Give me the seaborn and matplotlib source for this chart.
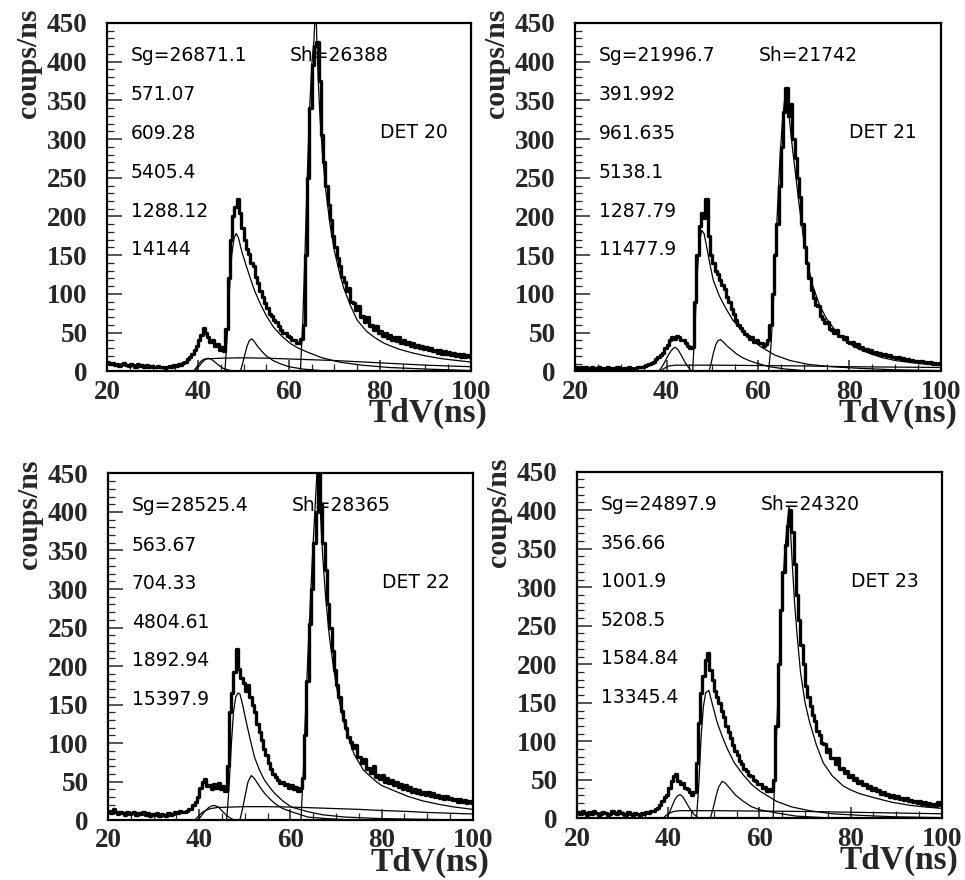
import numpy as np
import matplotlib
matplotlib.use("Agg")
import matplotlib.pyplot as plt
from matplotlib.ticker import MultipleLocator
import seaborn as sns

# TdV histogram: 0.5 ns bins from 20 to 100 ns
bin_lo, bin_hi, bin_w = 20.0, 100.0, 0.5

# ---------------- DET 20 ----------------
det20_counts = [
    12, 9, 11, 8, 10, 7, 9, 11, 8, 7, 10, 8, 6, 9, 7, 8, 6, 8, 5, 7,
    6, 5, 7, 5, 6, 4, 6, 7, 5, 8, 7, 9, 8, 11, 12, 16, 18, 22, 27, 33,
    40, 47, 56, 50, 44, 38, 40, 33, 35, 28, 31, 26, 55, 120, 170, 200, 212, 222, 205, 185,
    170, 158, 152, 140, 136, 122, 114, 104, 96, 88, 82, 74, 72, 66, 64, 58, 54, 50, 50, 46,
    44, 41, 40, 37, 36, 42, 60, 150, 250, 340, 395, 420, 425, 375, 305, 270, 240, 215, 195, 175,
    160, 146, 136, 122, 115, 104, 108, 90, 88, 79, 84, 70, 72, 64, 70, 58, 60, 53, 58, 50,
    52, 46, 50, 43, 47, 41, 45, 39, 44, 37, 40, 35, 38, 33, 36, 31, 34, 30, 33, 29,
    31, 27, 30, 26, 28, 24, 27, 23, 26, 22, 25, 21, 24, 20, 23, 19, 22, 19, 21, 18,
]
det20_p48_x = [45.9, 46.4, 46.9, 47.4, 47.9, 48.4, 48.9, 49.6, 50.5, 51.5, 52.5, 53.7, 55, 56.6, 58.5, 60.3, 62, 64, 67, 71, 76, 82, 90, 100]
det20_p48_y = [0, 45, 105, 150, 172, 178, 172, 155, 138, 120, 103, 87, 72, 57, 45, 36, 30, 25, 18, 12, 8, 5, 3, 1]
det20_p51_x = [49.3, 49.8, 50.3, 50.8, 51.3, 51.8, 52.3, 53, 54, 55, 56.5, 58, 60, 63, 67, 72]
det20_p51_y = [0, 10, 22, 33, 40, 42, 39, 33, 26, 20, 14, 10, 6, 3, 1, 0]
det20_p42_x = [39.3, 40, 40.8, 41.5, 42.2, 42.8, 43.5, 44.5, 45.5, 46.5, 48]
det20_p42_y = [0, 5, 11, 15, 17, 16, 13, 8, 4, 2, 0]
det20_bg_x = [39.0, 39.6, 40.2, 40.8, 41.5, 45, 50, 55, 60, 70, 80, 90, 100]
det20_bg_y = [0, 5, 10, 14, 16, 17, 17.5, 17, 16, 14, 11, 8, 6]
det20_p66_x = [62.5, 63.0, 63.5, 64.0, 64.5, 65.0, 65.5, 65.9, 66.1, 66.4, 66.8, 67.3, 68, 69, 70, 71, 72, 73.5, 75, 77, 79, 81, 84, 87, 90, 94, 97, 100]
det20_p66_y = [0, 60, 150, 250, 335, 395, 430, 480, 430, 380, 330, 285, 238, 190, 155, 130, 108, 85, 66, 52, 43, 36, 29, 24, 20, 16, 14, 12]
det20_sg, det20_sh = "Sg=26871.1", "Sh=26388"
det20_fit = ["571.07", "609.28", "5405.4", "1288.12", "14144"]

# ---------------- DET 21 ----------------
det21_counts = [
    6, 4, 5, 3, 5, 4, 3, 5, 4, 3, 5, 4, 3, 4, 5, 3, 4, 3, 5, 4,
    3, 4, 3, 5, 4, 3, 4, 5, 6, 5, 7, 8, 9, 11, 12, 16, 18, 21, 24, 30,
    34, 40, 44, 42, 46, 44, 40, 41, 36, 33, 30, 32, 90, 150, 188, 205, 198, 222, 175, 150,
    140, 130, 126, 118, 112, 106, 96, 90, 80, 74, 66, 60, 56, 52, 48, 46, 42, 44, 38, 40,
    36, 37, 33, 35, 40, 60, 100, 150, 190, 240, 290, 335, 366, 330, 345, 300, 275, 250, 225, 190,
    160, 140, 120, 105, 95, 86, 84, 72, 68, 62, 64, 55, 54, 50, 54, 46, 46, 42, 45, 38,
    36, 38, 33, 35, 30, 32, 28, 29, 26, 27, 24, 25, 22, 24, 21, 22, 20, 21, 18, 19,
    17, 18, 16, 17, 15, 16, 14, 15, 13, 14, 12, 13, 12, 12, 11, 12, 10, 11, 10, 11,
]
det21_p48_x = [45.7, 46.2, 46.7, 47.2, 47.7, 48.2, 48.8, 49.5, 50.2, 51.5, 52.8, 54.5, 56.4, 58.5, 60.8, 63.7, 67, 71, 76, 82, 90, 100]
det21_p48_y = [0, 55, 125, 168, 182, 178, 160, 138, 118, 98, 83, 66, 53, 41, 31, 21, 14, 9, 6, 4, 2, 1]
det21_p51_x = [49.3, 49.8, 50.3, 50.8, 51.3, 51.8, 52.4, 53.2, 54.2, 55.2, 56.5, 58, 60, 62.5, 66, 70]
det21_p51_y = [0, 12, 25, 35, 40, 41, 38, 33, 28, 23, 18, 14, 10, 6, 3, 1]
det21_p42_x = [38.2, 38.8, 39.5, 40.2, 40.9, 41.5, 41.9, 42.5, 43.2, 44, 44.8, 45.5]
det21_p42_y = [0, 4, 11, 19, 26, 30, 31, 28, 21, 12, 5, 0]
det21_bg_x = [38.5, 39.5, 40.5, 42, 50, 60, 70, 80, 90, 100]
det21_bg_y = [0, 4, 7, 8, 8, 7.5, 7, 6, 5.5, 5]
det21_p66_x = [62.3, 62.8, 63.3, 63.8, 64.3, 64.8, 65.3, 65.8, 66.1, 66.5, 67, 67.5, 68.2, 69, 70, 71, 72, 73.5, 75, 77, 79, 81, 84, 87, 90, 94, 97, 100]
det21_p66_y = [0, 30, 80, 150, 215, 275, 320, 350, 358, 345, 318, 290, 255, 215, 170, 135, 110, 85, 68, 52, 40, 32, 24, 18, 14, 11, 9, 8]
det21_sg, det21_sh = "Sg=21996.7", "Sh=21742"
det21_fit = ["391.992", "961.635", "5138.1", "1287.79", "11477.9"]

# ---------------- DET 22 ----------------
det22_counts = [
    12, 9, 14, 10, 8, 11, 9, 7, 10, 8, 9, 11, 7, 9, 8, 10, 7, 9, 6, 8,
    7, 9, 6, 8, 7, 6, 9, 7, 8, 10, 9, 12, 11, 10, 12, 14, 15, 20, 24, 30,
    42, 50, 54, 44, 46, 41, 47, 42, 48, 40, 44, 38, 70, 140, 165, 192, 222, 196, 185, 178,
    168, 175, 160, 150, 140, 125, 115, 104, 92, 84, 74, 66, 60, 56, 52, 48, 50, 45, 47, 42,
    45, 40, 43, 38, 42, 55, 110, 180, 255, 300, 360, 400, 455, 410, 360, 325, 280, 250, 220, 195,
    175, 160, 142, 130, 120, 108, 102, 94, 98, 82, 82, 74, 80, 66, 68, 61, 70, 56, 59, 53,
    58, 50, 55, 48, 52, 45, 49, 43, 47, 41, 45, 39, 43, 37, 40, 35, 39, 34, 37, 33,
    36, 31, 35, 30, 33, 29, 32, 28, 31, 27, 29, 26, 28, 24, 27, 23, 26, 22, 25, 22,
]
det22_p48_x = [46.0, 46.5, 47.0, 47.5, 48.0, 48.5, 48.9, 49.5, 50.1, 50.7, 51.4, 52.1, 53.2, 54.3, 55.4, 56.5, 58.3, 60.2, 63.8, 67, 72, 80, 90, 100]
det22_p48_y = [0, 40, 95, 140, 160, 165, 164, 150, 133, 117, 99, 82, 65, 52, 43, 35, 25, 17, 11, 7, 4, 2, 1, 0]
det22_p51_x = [48.9, 49.5, 50.1, 50.7, 51.4, 52.1, 53.2, 54.3, 55.4, 56.5, 58.3, 60.2, 63.8, 68, 74]
det22_p51_y = [0, 15, 33, 50, 58, 54, 44, 35, 28, 22, 15, 11, 4, 2, 0]
det22_p42_x = [39.7, 40.5, 41.3, 42.0, 42.7, 43.4, 44.2, 45.0, 46.0, 47.0, 47.8]
det22_p42_y = [0, 6, 12, 16, 18.5, 19, 17, 12, 6, 2, 0]
det22_bg_x = [39.0, 39.8, 40.6, 41.5, 42.5, 44, 47, 50, 55, 60, 65, 70, 75, 80, 85, 90, 95, 100]
det22_bg_y = [0, 5, 10, 13, 15, 16.5, 17, 17.5, 17.5, 17, 16, 15, 14, 12.5, 11.5, 10, 9, 8]
det22_p66_x = [62.3, 62.8, 63.3, 63.8, 64.3, 64.8, 65.3, 65.8, 66.0, 66.2, 66.6, 67.1, 67.7, 68.5, 69.5, 70.5, 72, 74, 76, 78.4, 80, 82, 85.7, 89, 93, 96, 100]
det22_p66_y = [0, 60, 140, 210, 275, 340, 395, 450, 490, 450, 395, 340, 290, 240, 195, 160, 120, 85, 65, 52, 45, 40, 31, 25, 20, 17, 14]
det22_sg, det22_sh = "Sg=28525.4", "Sh=28365"
det22_fit = ["563.67", "704.33", "4804.61", "1892.94", "15397.9"]

# ---------------- DET 23 ----------------
det23_counts = [
    8, 6, 9, 7, 5, 8, 6, 9, 7, 5, 6, 8, 7, 5, 6, 9, 7, 6, 10, 7,
    6, 5, 8, 6, 5, 7, 6, 5, 7, 6, 8, 7, 9, 10, 12, 14, 17, 22, 28, 31,
    40, 48, 55, 57, 48, 44, 46, 40, 38, 34, 31, 34, 72, 124, 163, 185, 205, 215, 193, 180,
    165, 158, 150, 140, 132, 120, 112, 104, 95, 88, 82, 74, 70, 64, 62, 56, 55, 50, 49, 44,
    44, 40, 41, 36, 38, 35, 50, 120, 200, 270, 320, 355, 380, 400, 372, 330, 290, 258, 225, 200,
    172, 158, 146, 134, 126, 114, 108, 98, 96, 86, 90, 78, 79, 70, 78, 64, 66, 59, 61, 54,
    56, 50, 52, 46, 49, 43, 45, 40, 42, 37, 40, 35, 37, 32, 34, 30, 32, 28, 30, 27,
    29, 25, 27, 24, 26, 22, 24, 21, 23, 20, 22, 19, 21, 18, 20, 17, 19, 16, 21, 17,
]
det23_p48_x = [46.2, 46.7, 47.2, 47.7, 48.2, 48.9, 49.6, 50.7, 51.8, 52.9, 54.5, 56.5, 58.3, 60.2, 63.8, 67, 71, 76, 82, 90, 100]
det23_p48_y = [0, 45, 105, 145, 163, 166, 150, 125, 107, 91, 72, 56, 44, 35, 22, 15, 10, 6, 4, 2, 1]
det23_p51_x = [49.2, 49.8, 50.4, 51.0, 51.8, 52.5, 53.5, 54.8, 56.5, 58.3, 60.2, 63.8, 68, 74]
det23_p51_y = [0, 12, 27, 40, 48, 46, 39, 30, 22, 15, 11, 7, 3, 1]
det23_p42_x = [39.7, 40.3, 40.9, 41.5, 42.0, 42.6, 43.2, 44.0, 44.8, 45.7, 46.7]
det23_p42_y = [0, 8, 17, 25, 29, 31, 28, 20, 12, 5, 0]
det23_bg_x = [38.8, 39.5, 40.3, 41.2, 42.5, 50, 60, 70, 80, 90, 100]
det23_bg_y = [0, 4, 7, 9, 10, 10, 9.5, 9, 8, 7, 6]
det23_p66_x = [63.0, 63.5, 64.0, 64.5, 65.0, 65.5, 66.0, 66.5, 66.8, 67.2, 67.7, 68.3, 69, 70, 71, 72.5, 74, 76, 78.4, 80, 82, 85.7, 89, 93, 96, 100]
det23_p66_y = [0, 70, 150, 225, 290, 340, 378, 405, 375, 330, 280, 235, 190, 150, 125, 95, 72, 55, 42, 37, 32, 26, 21, 17, 15, 13]
det23_sg, det23_sh = "Sg=24897.9", "Sh=24320"
det23_fit = ["356.66", "1001.9", "5208.5", "1584.84", "13345.4"]

det_names = ["DET 20", "DET 21", "DET 22", "DET 23"]

panels = [
    dict(counts=det20_counts, sg=det20_sg, sh=det20_sh, fit=det20_fit,
         curves=[(det20_p48_x, det20_p48_y), (det20_p51_x, det20_p51_y), (det20_p42_x, det20_p42_y),
                 (det20_bg_x, det20_bg_y), (det20_p66_x, det20_p66_y)]),
    dict(counts=det21_counts, sg=det21_sg, sh=det21_sh, fit=det21_fit,
         curves=[(det21_p48_x, det21_p48_y), (det21_p51_x, det21_p51_y), (det21_p42_x, det21_p42_y),
                 (det21_bg_x, det21_bg_y), (det21_p66_x, det21_p66_y)]),
    dict(counts=det22_counts, sg=det22_sg, sh=det22_sh, fit=det22_fit,
         curves=[(det22_p48_x, det22_p48_y), (det22_p51_x, det22_p51_y), (det22_p42_x, det22_p42_y),
                 (det22_bg_x, det22_bg_y), (det22_p66_x, det22_p66_y)]),
    dict(counts=det23_counts, sg=det23_sg, sh=det23_sh, fit=det23_fit,
         curves=[(det23_p48_x, det23_p48_y), (det23_p51_x, det23_p51_y), (det23_p42_x, det23_p42_y),
                 (det23_bg_x, det23_bg_y), (det23_p66_x, det23_p66_y)]),
]

sns.set_theme(style="white")
plt.rcParams['font.family'] = ['Liberation Serif', 'DejaVu Serif']
plt.rcParams['axes.linewidth'] = 1.5

fig = plt.figure(figsize=(9.65, 8.8), dpi=100)
rects = [
    [0.111, 0.578, 0.377, 0.396],
    [0.596, 0.578, 0.379, 0.396],
    [0.112, 0.068, 0.378, 0.394],
    [0.598, 0.070, 0.378, 0.394],
]

centers = np.arange(bin_lo + bin_w / 2, bin_hi, bin_w)
txt = dict(family='DejaVu Sans', fontsize=13.5, va='center', color='black')

for rect, det, p in zip(rects, det_names, panels):
    ax = fig.add_axes(rect)
    sns.histplot(x=centers, weights=p['counts'], binwidth=bin_w, binrange=(bin_lo, bin_hi),
                 element='step', fill=False, color='black', linewidth=2.4, ax=ax)
    for cx, cy in p['curves']:
        sns.lineplot(x=cx, y=cy, color='black', linewidth=0.9, estimator=None, sort=False, ax=ax)

    ax.set_xlim(20, 100)
    ax.set_ylim(0, 450)
    ax.set_xlabel('')
    ax.set_ylabel('')
    ax.xaxis.set_major_locator(MultipleLocator(20))
    ax.xaxis.set_minor_locator(MultipleLocator(5))
    ax.yaxis.set_major_locator(MultipleLocator(50))
    ax.yaxis.set_minor_locator(MultipleLocator(10))
    ax.tick_params(axis='y', which='major', direction='in', length=11, width=1.1,
                   labelsize=19.5, pad=14, left=True, right=False)
    ax.tick_params(axis='y', which='minor', direction='in', length=5, width=0.9, left=True, right=False)
    ax.tick_params(axis='x', which='major', direction='in', length=8, width=1.1,
                   labelsize=19.5, pad=6, bottom=True, top=False)
    ax.tick_params(axis='x', which='minor', direction='in', length=5, width=0.9, bottom=True, top=False)
    for lab in ax.get_xticklabels() + ax.get_yticklabels():
        lab.set_fontweight('bold')
    for s in ax.spines.values():
        s.set_color('black')
        s.set_linewidth(1.6)

    # fit parameters
    ax.text(25.2, 408, p['sg'], **txt)
    ax.text(60.2, 408, p['sh'], **txt)
    for i, val in enumerate(p['fit']):
        ax.text(25.2, 357 - 50 * i, val, **txt)
    ax.text(80, 308, det, **txt)

    ax.text(-0.215, 1.04, 'coups/ns', rotation=90, ha='center', va='top',
            transform=ax.transAxes, fontsize=21.5, fontweight='bold')
    ax.text(1.045, -0.146, 'TdV(ns)', ha='right', va='baseline',
            transform=ax.transAxes, fontsize=24, fontweight='bold')

fig.savefig('out.png', dpi=100, facecolor='white')
